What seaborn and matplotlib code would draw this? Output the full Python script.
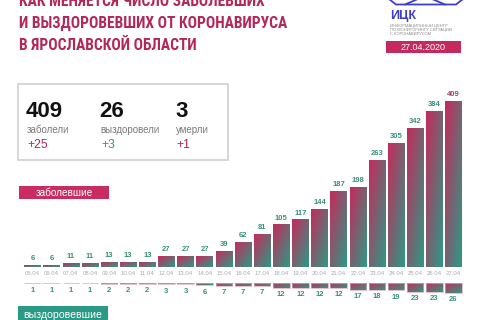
import numpy as np
import matplotlib
matplotlib.use("Agg")
import matplotlib.pyplot as plt
import seaborn as sns
from matplotlib.colors import LinearSegmentedColormap
from matplotlib.patches import Rectangle
from matplotlib.lines import Line2D

# data
dates = ["05.04", "06.04", "07.04", "08.04", "09.04", "10.04", "11.04", "12.04",
         "13.04", "14.04", "15.04", "16.04", "17.04", "18.04", "19.04", "20.04",
         "21.04", "22.04", "23.04", "24.04", "25.04", "26.04", "27.04"]
sick = [6, 6, 11, 11, 13, 13, 13, 27, 27, 27, 39, 62, 81, 105, 117, 144,
        187, 198, 263, 305, 342, 384, 409]
recovered = [1, 1, 1, 1, 2, 2, 2, 3, 3, 6, 7, 7, 7, 12, 12, 12, 12,
             17, 18, 19, 23, 23, 26]

stat_values = ["409", "26", "3"]
stat_labels = ["заболели", "выздоровели", "умерли"]
stat_deltas = ["+25", "+3", "+1"]

title_lines = ["КАК МЕНЯЕТСЯ ЧИСЛО ЗАБОЛЕВШИХ",
               "И ВЫЗДОРОВЕВШИХ ОТ КОРОНАВИРУСА",
               "В ЯРОСЛАВСКОЙ ОБЛАСТИ"]

CRIMSON = "#c62a5c"
TEAL = "#2b9a85"
BLUE = "#3d3fc7"

sns.set_style("white")
plt.rcParams["font.family"] = ["Liberation Sans", "DejaVu Sans"]

W, H = 480, 320
fig = plt.figure(figsize=(4.8, 3.2), dpi=100)
fig.patch.set_facecolor("white")


def px(x, y):
    return x / W, 1 - y / H


grad_cmap = LinearSegmentedColormap.from_list("cr_te", [CRIMSON, TEAL])


def fill_gradient(ax, inverted=False, edge="none"):
    u = np.linspace(0, 1, 40)
    v = np.linspace(0, 1, 80)
    U, V = np.meshgrid(u, v)
    G = (U + V) / 2
    for p in list(ax.patches):
        x0, y0 = p.get_x(), p.get_y()
        w, h = p.get_width(), p.get_height()
        if inverted:
            ext = [x0, x0 + w, y0 + h, y0]
        else:
            ext = [x0, x0 + w, y0, y0 + h]
        im = ax.imshow(G, cmap=grad_cmap, vmin=0, vmax=1, extent=ext,
                       origin="upper", aspect="auto", interpolation="bilinear",
                       zorder=2)
        im.set_clip_path(p)
        p.set_facecolor("none")
        p.set_edgecolor(edge)
        p.set_linewidth(0.5)
        p.set_zorder(3)


# upper bars: sick
ax = fig.add_axes([22.9 / W, 53 / H, 440.2 / W, 182.7 / H])
sns.barplot(x=dates, y=sick, ax=ax, width=0.86, color=CRIMSON)
fill_gradient(ax)
ax.set_xlim(-0.5, len(dates) - 0.5)
ax.set_ylim(0, 450)
for i, v in enumerate(sick):
    c = "#a8405e" if i == len(sick) - 1 else "#3a8f7f"
    ax.annotate(str(v), (i, v), xytext=(0, 2), textcoords="offset points",
                ha="center", va="bottom", fontsize=5.5, fontweight="bold",
                color=c)
ax.set_yticks([])
ax.tick_params(axis="x", length=0, pad=3.2, labelsize=4.3, labelcolor="#ababab")
sns.despine(ax=ax, left=True, bottom=True)
ax.set_xlabel("")
ax.patch.set_alpha(0)

# lower bars: recovered, hanging down
ax2 = fig.add_axes([22.9 / W, 7 / H, 440.2 / W, 30 / H])
sns.barplot(x=dates, y=recovered, ax=ax2, width=0.86, color=TEAL)
fill_gradient(ax2, inverted=True, edge="#d4aab8")
ax2.set_xlim(-0.5, len(dates) - 0.5)
ax2.set_ylim(78, 0)
for i, v in enumerate(recovered):
    ax2.annotate(str(v), (i, v), xytext=(0, -2.5), textcoords="offset points",
                 ha="center", va="top", fontsize=5.5, fontweight="bold",
                 color="#3a8f7f")
ax2.set_xticks([])
ax2.set_yticks([])
sns.despine(ax=ax2, left=True, bottom=True)
ax2.patch.set_alpha(0)

# title, condensed face; shrink if the fallback face is too wide
title_family = ["Roboto Condensed", "Liberation Sans Narrow", "DejaVu Sans"]
title_texts = []
for line, base in zip(title_lines, [5.5, 27.5, 49.5]):
    t = fig.text(*px(19, base), line, ha="left", va="baseline", fontsize=14.8,
                 fontweight="bold", color="#b3285a", family=title_family)
    title_texts.append(t)
fig.canvas.draw()
rend = fig.canvas.get_renderer()
w2 = title_texts[1].get_window_extent(rend).width
if w2 > 280:
    for t in title_texts:
        t.set_fontsize(14.8 * 270 / w2)

# logo
fig.add_artist(Line2D([389 / W, 396 / W, 456 / W, 463 / W],
                      [1 + 1 / H, 1 - 4.5 / H, 1 - 4.5 / H, 1 + 1 / H],
                      color=BLUE, lw=1.3, transform=fig.transFigure))
fig.add_artist(Line2D([405 / W, 425 / W, 445 / W],
                      [1 - 4.5 / H, 1 + 4 / H, 1 - 4.5 / H],
                      color=BLUE, lw=1.3, transform=fig.transFigure))
fig.text(*px(390, 19.5), "ИЦК", ha="left", va="baseline", fontsize=9,
         fontweight="bold", color=BLUE)
for txt, yc in zip(["ИНФОРМАЦИОННЫЙ ЦЕНТР", "ПО МОНИТОРИНГУ СИТУАЦИИ",
                    "С КОРОНАВИРУСОМ"], [26.5, 30.6, 34.7]):
    fig.text(*px(390, yc), txt, ha="left", va="baseline", fontsize=2.9,
             color="#8a8a8a")
fig.add_artist(Rectangle(px(386, 53), 75 / W, 12 / H, transform=fig.transFigure,
                         facecolor=CRIMSON, edgecolor="none"))
fig.text(*px(423.5, 47.5), "27.04.2020", ha="center", va="center",
         fontsize=6.5, color="white")

# stats box
fig.add_artist(Rectangle(px(18, 160), 210 / W, 76 / H, transform=fig.transFigure,
                         facecolor="white", edgecolor="#d0d0d0", lw=1.2))
delta_colors = ["#b5285c", "#2a9a80", "#b5285c"]
for xv, val, lab, d, dc in zip([26, 99.5, 175], stat_values, stat_labels,
                               stat_deltas, delta_colors):
    fig.text(*px(xv, 116.7), val, ha="left", va="baseline", fontsize=16,
             fontweight="bold", color="#111111")
    fig.text(*px(xv + 0.5, 133), lab, ha="left", va="baseline", fontsize=7,
             color="#7a7a7a")
    fig.text(*px(xv + 1.5, 148), d, ha="left", va="baseline", fontsize=8.7,
             color=dc)

# section tags
fig.add_artist(Rectangle(px(19, 199), 90 / W, 13 / H, transform=fig.transFigure,
                         facecolor="#c92c5f", edgecolor="none"))
fig.text(*px(64, 192.8), "заболевшие", ha="center", va="center", fontsize=7.2,
         color="white")
fig.add_artist(Rectangle(px(18, 322), 90 / W, 16 / H, transform=fig.transFigure,
                         facecolor=TEAL, edgecolor="none"))
fig.text(*px(63, 314.5), "выздоровевшие", ha="center", va="center",
         fontsize=7.6, color="white")

fig.savefig("out.png", dpi=100)
